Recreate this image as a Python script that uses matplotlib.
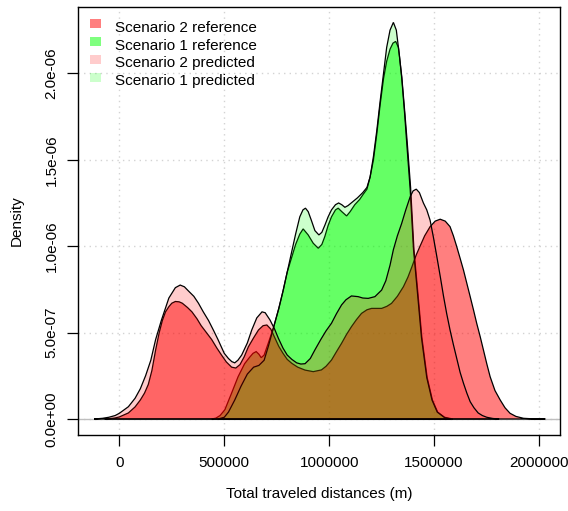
import matplotlib
matplotlib.use("Agg")
import numpy as np
from matplotlib import pyplot as plt
from matplotlib.patches import Rectangle

plt.rcParams["font.family"] = ["Liberation Sans", "DejaVu Sans"]

# distances in metres (millions), densities in 1e-6
s1_pred_x = [0.47, 0.50, 0.52, 0.55, 0.58, 0.61, 0.64, 0.665, 0.69, 0.71, 0.735, 0.76, 0.78, 0.80,
             0.82, 0.84, 0.86, 0.875, 0.887, 0.90, 0.915, 0.932, 0.951, 0.965, 0.979, 0.995, 1.011,
             1.03, 1.045, 1.06, 1.075, 1.09, 1.11, 1.135, 1.16, 1.18, 1.195, 1.211, 1.227, 1.243,
             1.259, 1.274, 1.29, 1.306, 1.32, 1.335, 1.346, 1.36, 1.37, 1.386, 1.402, 1.42, 1.44,
             1.465, 1.49, 1.515, 1.55, 1.58]
s1_pred_y = [0, 0.01, 0.04, 0.11, 0.19, 0.26, 0.30, 0.31, 0.34, 0.42, 0.53, 0.64, 0.74, 0.85,
             0.96, 1.07, 1.17, 1.21, 1.22, 1.20, 1.15, 1.09, 1.065, 1.08, 1.12, 1.17, 1.21,
             1.24, 1.25, 1.24, 1.225, 1.235, 1.255, 1.28, 1.31, 1.34, 1.40, 1.52, 1.67, 1.84,
             2.00, 2.15, 2.25, 2.295, 2.25, 2.10, 1.97, 1.76, 1.59, 1.33, 0.98, 0.74, 0.47,
             0.24, 0.11, 0.04, 0.008, 0]

s1_ref_x = [0.44, 0.46, 0.48, 0.503, 0.535, 0.566, 0.597, 0.62, 0.637, 0.652, 0.665, 0.676, 0.69,
            0.71, 0.735, 0.76, 0.78, 0.80, 0.82, 0.84, 0.86, 0.876, 0.90, 0.924, 0.948, 0.965,
            0.979, 0.995, 1.011, 1.03, 1.043, 1.06, 1.083, 1.10, 1.122, 1.145, 1.162, 1.18, 1.195,
            1.211, 1.227, 1.243, 1.259, 1.274, 1.29, 1.304, 1.317, 1.33, 1.346, 1.36, 1.372,
            1.388, 1.404, 1.422, 1.442, 1.467, 1.492, 1.517, 1.55, 1.59]
s1_ref_y = [0, 0.005, 0.02, 0.054, 0.15, 0.245, 0.32, 0.356, 0.38, 0.39, 0.375, 0.355, 0.37,
            0.44, 0.53, 0.64, 0.74, 0.85, 0.93, 1.01, 1.07, 1.10, 1.065, 1.017, 0.988, 1.01,
            1.055, 1.12, 1.17, 1.21, 1.22, 1.20, 1.175, 1.20, 1.24, 1.27, 1.30, 1.33, 1.40,
            1.50, 1.65, 1.82, 1.97, 2.07, 2.14, 2.175, 2.185, 2.15, 1.98, 1.78, 1.60,
            1.34, 0.98, 0.74, 0.47, 0.24, 0.11, 0.04, 0.01, 0]

s2_pred_x = [-0.12, -0.08, -0.05, -0.02, 0.0, 0.043, 0.075, 0.10, 0.125, 0.15, 0.173, 0.20, 0.236,
             0.267, 0.29, 0.31, 0.33, 0.355, 0.377, 0.40, 0.425, 0.45, 0.47, 0.50, 0.52, 0.536,
             0.55, 0.565, 0.583, 0.61, 0.631, 0.655, 0.68, 0.695, 0.718, 0.74, 0.758, 0.78, 0.80,
             0.822, 0.845, 0.865, 0.885, 0.91, 0.932, 0.96, 0.985, 1.011, 1.035, 1.059, 1.08,
             1.106, 1.138, 1.16, 1.186, 1.218, 1.25, 1.27, 1.29, 1.306, 1.325, 1.345, 1.365,
             1.386, 1.40, 1.415, 1.43, 1.449, 1.465, 1.481, 1.497, 1.513, 1.53, 1.545, 1.56,
             1.576, 1.592, 1.608, 1.624, 1.64, 1.656, 1.672, 1.69, 1.71, 1.73, 1.751, 1.78, 1.81]
s2_pred_y = [0, 0.004, 0.01, 0.02, 0.033, 0.071, 0.12, 0.175, 0.25, 0.34, 0.46, 0.57, 0.70,
             0.76, 0.775, 0.765, 0.74, 0.71, 0.67, 0.62, 0.57, 0.51, 0.46, 0.38, 0.35, 0.332,
             0.325, 0.34, 0.37, 0.44, 0.515, 0.585, 0.62, 0.615, 0.573, 0.52, 0.467, 0.41, 0.37,
             0.345, 0.325, 0.318, 0.32, 0.35, 0.40, 0.46, 0.51, 0.554, 0.61, 0.66, 0.69,
             0.712, 0.708, 0.70, 0.698, 0.708, 0.746, 0.80, 0.89, 0.98, 1.06, 1.13, 1.21,
             1.286, 1.32, 1.33, 1.31, 1.25, 1.21, 1.15, 1.05, 0.94, 0.82, 0.71, 0.61,
             0.515, 0.43, 0.35, 0.27, 0.207, 0.15, 0.10, 0.065, 0.035, 0.02, 0.01, 0.003, 0]

s2_ref_x = [-0.07, -0.04, -0.02, 0.0, 0.043, 0.075, 0.10, 0.12, 0.138, 0.155, 0.173, 0.19, 0.205,
            0.22, 0.236, 0.25, 0.267, 0.285, 0.30, 0.325, 0.346, 0.37, 0.39, 0.415, 0.44, 0.465,
            0.487, 0.51, 0.535, 0.555, 0.575, 0.595, 0.615, 0.64, 0.663, 0.685, 0.703, 0.722,
            0.742, 0.76, 0.78, 0.80, 0.822, 0.85, 0.885, 0.924, 0.963, 0.985, 1.011, 1.035,
            1.059, 1.083, 1.106, 1.13, 1.154, 1.18, 1.202, 1.225, 1.25, 1.275, 1.297, 1.325,
            1.354, 1.375, 1.394, 1.415, 1.433, 1.455, 1.481, 1.505, 1.529, 1.553, 1.576, 1.592,
            1.608, 1.624, 1.64, 1.656, 1.672, 1.688, 1.703, 1.72, 1.735, 1.751, 1.767, 1.79,
            1.815, 1.838, 1.862, 1.89, 1.926, 1.97, 2.03]
s2_ref_y = [0, 0.003, 0.006, 0.012, 0.035, 0.07, 0.11, 0.15, 0.20, 0.28, 0.40, 0.50, 0.57,
            0.62, 0.65, 0.67, 0.68, 0.678, 0.67, 0.645, 0.62, 0.58, 0.54, 0.50, 0.46, 0.41,
            0.37, 0.33, 0.30, 0.295, 0.315, 0.36, 0.418, 0.47, 0.515, 0.54, 0.544, 0.52,
            0.467, 0.42, 0.38, 0.345, 0.322, 0.30, 0.283, 0.274, 0.284, 0.305, 0.341, 0.39,
            0.438, 0.49, 0.534, 0.575, 0.611, 0.632, 0.64, 0.64, 0.64, 0.652, 0.669, 0.71,
            0.766, 0.82, 0.88, 0.95, 1.0, 1.06, 1.113, 1.145, 1.156, 1.145, 1.113, 1.06,
            0.997, 0.93, 0.862, 0.785, 0.708, 0.63, 0.554, 0.475, 0.40, 0.32, 0.245, 0.165,
            0.11, 0.065, 0.033, 0.015, 0.004, 0.001, 0]

legend_labels = ["Scenario 2 reference", "Scenario 1 reference",
                 "Scenario 2 predicted", "Scenario 1 predicted"]
x_ticks = [0, 500000, 1000000, 1500000, 2000000]
y_ticks = [0, 5e-7, 1e-6, 1.5e-6, 2e-6]
y_tick_labels = ["0.0e+00", "5.0e-07", "1.0e-06", "1.5e-06", "2.0e-06"]

red_ref = (1, 0, 0, 0.5)
green_ref = (0, 1, 0, 0.5)
red_pred = (1, 0, 0, 0.2)
green_pred = (0, 1, 0, 0.2)

W, H = 568, 511
fig = plt.figure(figsize=(W / 100, H / 100), dpi=100)
ax = fig.add_axes([78 / W, 1 - 435 / H, (560 - 78) / W, (435 - 7) / H])

for xt in x_ticks:
    ax.axvline(xt, color="#D3D3D3", ls=(0, (1, 3)), lw=1, zorder=0)
for yt in y_ticks:
    ax.axhline(yt, color="#D3D3D3", ls=(0, (1, 3)), lw=1, zorder=0)
ax.axhline(0, color="#BEBEBE", lw=1, zorder=0.5)


def draw_density(xs, ys, color):
    xs = np.array(xs) * 1e6
    ys = np.array(ys) * 1e-6
    ax.fill(xs, ys, facecolor=color, edgecolor="black", lw=0.9, zorder=1)


draw_density(s1_ref_x, s1_ref_y, green_ref)
draw_density(s2_ref_x, s2_ref_y, red_ref)
draw_density(s1_pred_x, s1_pred_y, green_pred)
draw_density(s2_pred_x, s2_pred_y, red_pred)

ax.set_xlim(-197000, 2100000)
ax.set_ylim(-0.0926e-6, 2.384e-6)
ax.set_xticks(x_ticks)
ax.set_xticklabels([str(t) for t in x_ticks])
ax.set_yticks(y_ticks)
ax.set_yticklabels(y_tick_labels, rotation=90, va="center")
ax.tick_params(axis="both", length=8, width=0.9, labelsize=11)
ax.tick_params(axis="x", pad=7)
ax.tick_params(axis="y", pad=6)
for sp in ax.spines.values():
    sp.set_linewidth(1.0)

fig.text(319 / W, 1 - 494 / H, "Total traveled distances (m)", ha="center", va="center", fontsize=11)
fig.text(17 / W, 1 - 221 / H, "Density", ha="center", va="center", rotation=90, fontsize=11)

# legend, R style (filled squares, no box)
leg_colors = [red_ref, green_ref, red_pred, green_pred]
for i, (lab, col) in enumerate(zip(legend_labels, leg_colors)):
    base = 31.5 + 18 * i
    fig.add_artist(Rectangle((90 / W, 1 - (base - 3.5) / H), 11 / W, 9 / H,
                             transform=fig.transFigure, facecolor=col, edgecolor="none"))
    fig.text(115 / W, 1 - base / H, lab, ha="left", va="baseline", fontsize=11)

fig.savefig("out.png", dpi=100)
